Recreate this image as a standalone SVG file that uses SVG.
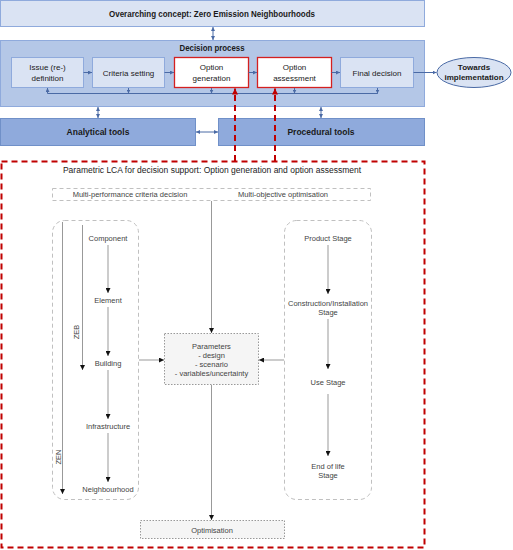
<svg xmlns="http://www.w3.org/2000/svg" width="513" height="550" viewBox="0 0 513 550">
<defs>
<style>
.t{font-family:"Liberation Sans",Arial,sans-serif;fill:#1a1a1a;text-anchor:middle}
.b{font-weight:bold}
.g{font-family:"Liberation Sans",Arial,sans-serif;fill:#444;text-anchor:middle;font-size:7.5px}
.blue{stroke:#4a6aa5;stroke-width:1;fill:none}
.gl{stroke:#999;stroke-width:1;fill:none}
.rd{stroke:#c00000;stroke-width:2;fill:none;stroke-dasharray:6,4}
.gd{stroke:#c0c0c0;stroke-width:1;fill:none;stroke-dasharray:4,3}
.ob{fill:#ffffff;stroke:#d42020;stroke-width:1.3}
</style>
<marker id="ab" viewBox="0 0 6 6" refX="6" refY="3" markerWidth="4" markerHeight="4" orient="auto-start-reverse"><path d="M0,0L6,3L0,6z" fill="#4a6aa5"/></marker>
<marker id="ar" viewBox="0 0 6 6" refX="6" refY="3" markerWidth="3" markerHeight="3" orient="auto"><path d="M0,0L6,3L0,6z" fill="#c00000"/></marker>
<marker id="ak" viewBox="0 0 6 6" refX="6" refY="3" markerWidth="5" markerHeight="5" orient="auto"><path d="M0,0L6,3L0,6z" fill="#111"/></marker>
</defs>

<g id="overarching">
<rect x="0.5" y="0.5" width="424" height="26" fill="#dae3f3" stroke="#8faadc"/>
<text class="t b" x="212" y="17" font-size="9" textLength="206" lengthAdjust="spacingAndGlyphs">Overarching concept: Zero Emission Neighbourhoods</text>
</g>

<g id="decision-process">
<rect x="0.5" y="40.5" width="424" height="66" fill="#b4c7e7" stroke="#8faadc"/>
<text class="t b" x="212" y="51" font-size="8.5" textLength="65" lengthAdjust="spacingAndGlyphs">Decision process</text>
</g>
<g id="issue">
<rect x="11.5" y="57.5" width="72" height="30" fill="#dae3f3" stroke="#8faadc"/>
<text class="t" x="47.5" y="70" font-size="8">Issue (re-)</text>
<text class="t" x="47.5" y="81" font-size="8">definition</text>
</g>
<g id="criteria">
<rect x="92.5" y="57.5" width="72" height="30" fill="#dae3f3" stroke="#8faadc"/>
<text class="t" x="128.5" y="75.5" font-size="8">Criteria setting</text>
</g>
<g id="option-generation">
<rect x="174.5" y="57.5" width="74" height="30" class="ob"/>
<text class="t" x="211.5" y="70" font-size="8">Option</text>
<text class="t" x="211.5" y="81" font-size="8">generation</text>
</g>
<g id="option-assessment">
<rect x="257.5" y="57.5" width="74" height="30" class="ob"/>
<text class="t" x="294.5" y="70" font-size="8">Option</text>
<text class="t" x="294.5" y="81" font-size="8">assessment</text>
</g>
<g id="final-decision">
<rect x="340.5" y="57.5" width="73" height="30" fill="#dae3f3" stroke="#8faadc"/>
<text class="t" x="377" y="75.5" font-size="8">Final decision</text>
</g>
<g id="towards">
<ellipse cx="474" cy="72.5" rx="37" ry="15" fill="#dae3f3" stroke="#4a6aa5"/>
<text class="t b" x="474" y="69.5" font-size="8">Towards</text>
<text class="t b" x="474" y="80" font-size="8">implementation</text>
</g>
<g id="analytical">
<rect x="0.5" y="118.5" width="195" height="27" fill="#8faadc" stroke="#7090c8"/>
<text class="t b" x="98" y="135" font-size="8.5">Analytical tools</text>
</g>
<g id="procedural">
<rect x="218.5" y="118.5" width="206" height="27" fill="#8faadc" stroke="#7090c8"/>
<text class="t b" x="321" y="135" font-size="8.5">Procedural tools</text>
</g>

<g id="lca-frame">
<rect x="1.5" y="161.5" width="423" height="386" class="rd"/>
<text x="212" y="173" font-family="Liberation Sans,Arial,sans-serif" font-size="8.5" fill="#222" text-anchor="middle">Parametric LCA for decision support: Option generation and option assessment</text>
</g>
<g id="multi">
<rect x="52.5" y="188.5" width="318" height="12" class="gd"/>
<text class="g" x="130" y="197">Multi-performance criteria decision</text>
<text class="g" x="283" y="197">Multi-objective optimisation</text>
</g>
<g id="scale-box">
<rect x="52.5" y="220.5" width="86" height="279" rx="12" class="gd"/>
<text class="g" x="108" y="241">Component</text>
<text class="g" x="108" y="303">Element</text>
<text class="g" x="108" y="366">Building</text>
<text class="g" x="108" y="429">Infrastructure</text>
<text class="g" x="108" y="492">Neighbourhood</text>
<text class="g" transform="translate(79,332) rotate(-90)">ZEB</text>
<text class="g" transform="translate(60.5,457) rotate(-90)">ZEN</text>
</g>
<g id="stage-box">
<rect x="284.5" y="220.5" width="87" height="279" rx="12" class="gd"/>
<text class="g" x="328" y="241">Product Stage</text>
<text class="g" x="328" y="306">Construction/Installation</text>
<text class="g" x="328" y="315">Stage</text>
<text class="g" x="328" y="385">Use Stage</text>
<text class="g" x="328" y="469">End of life</text>
<text class="g" x="328" y="478">Stage</text>
</g>
<g id="parameters">
<rect x="164.5" y="333.5" width="94" height="51" fill="#f5f5f5" stroke="#999" stroke-dasharray="1.5,1.5"/>
<text class="g" x="211.5" y="349">Parameters</text>
<text class="g" x="211.5" y="358">- design</text>
<text class="g" x="211.5" y="367">- scenario</text>
<text class="g" x="211.5" y="376">- variables/uncertainty</text>
</g>
<g id="optimisation">
<rect x="140.5" y="520.5" width="144" height="18" fill="#f5f5f5" stroke="#999" stroke-dasharray="1.5,1.5"/>
<text class="g" x="212" y="532.5">Optimisation</text>
</g>

<g id="connectors">
<line x1="213" y1="27" x2="213" y2="40" class="blue" marker-start="url(#ab)" marker-end="url(#ab)"/>
<line x1="83.5" y1="72.5" x2="92" y2="72.5" class="blue" marker-end="url(#ab)"/>
<line x1="164.5" y1="72.5" x2="174" y2="72.5" class="blue" marker-end="url(#ab)"/>
<line x1="248.5" y1="72.5" x2="257" y2="72.5" class="blue" marker-end="url(#ab)"/>
<line x1="331.5" y1="72.5" x2="340" y2="72.5" class="blue" marker-end="url(#ab)"/>
<line x1="413.5" y1="72.5" x2="436.5" y2="72.5" class="blue" marker-end="url(#ab)"/>
<polyline points="47.5,88 47.5,93.5 377.5,93.5 377.5,88" class="blue"/>
<line x1="47.5" y1="93" x2="47.5" y2="88" class="blue" marker-end="url(#ab)"/>
<line x1="128.5" y1="88" x2="128.5" y2="93.5" class="blue" marker-end="url(#ab)"/>
<line x1="211.5" y1="88" x2="211.5" y2="93.5" class="blue" marker-end="url(#ab)"/>
<line x1="294.5" y1="88" x2="294.5" y2="93.5" class="blue" marker-end="url(#ab)"/>
<line x1="377.5" y1="88" x2="377.5" y2="93.5" class="blue" marker-end="url(#ab)"/>
<line x1="98" y1="107" x2="98" y2="118" class="blue" marker-start="url(#ab)" marker-end="url(#ab)"/>
<line x1="321" y1="107" x2="321" y2="118" class="blue" marker-start="url(#ab)" marker-end="url(#ab)"/>
<line x1="196" y1="132" x2="218" y2="132" class="blue" marker-start="url(#ab)" marker-end="url(#ab)"/>
<line x1="235" y1="161" x2="235" y2="88.5" class="rd" marker-end="url(#ar)"/>
<line x1="275" y1="161" x2="275" y2="88.5" class="rd" marker-end="url(#ar)"/>
<line x1="62.5" y1="222" x2="62.5" y2="494" class="gl" marker-end="url(#ak)"/>
<line x1="82.5" y1="225" x2="82.5" y2="370" class="gl" marker-end="url(#ak)"/>
<line x1="108" y1="245" x2="108" y2="293" class="gl" marker-end="url(#ak)"/>
<line x1="108" y1="307" x2="108" y2="356" class="gl" marker-end="url(#ak)"/>
<line x1="108" y1="370" x2="108" y2="419" class="gl" marker-end="url(#ak)"/>
<line x1="108" y1="433" x2="108" y2="482" class="gl" marker-end="url(#ak)"/>
<line x1="328" y1="245" x2="328" y2="294" class="gl" marker-end="url(#ak)"/>
<line x1="328" y1="319" x2="328" y2="369" class="gl" marker-end="url(#ak)"/>
<line x1="328" y1="394" x2="328" y2="456" class="gl" marker-end="url(#ak)"/>
<line x1="211.5" y1="201" x2="211.5" y2="333" class="gl" marker-end="url(#ak)"/>
<line x1="139" y1="360" x2="164" y2="360" class="gl" marker-end="url(#ak)"/>
<line x1="284" y1="360" x2="259" y2="360" class="gl" marker-end="url(#ak)"/>
<line x1="211.5" y1="385" x2="211.5" y2="520" class="gl" marker-end="url(#ak)"/>
</g>
</svg>
